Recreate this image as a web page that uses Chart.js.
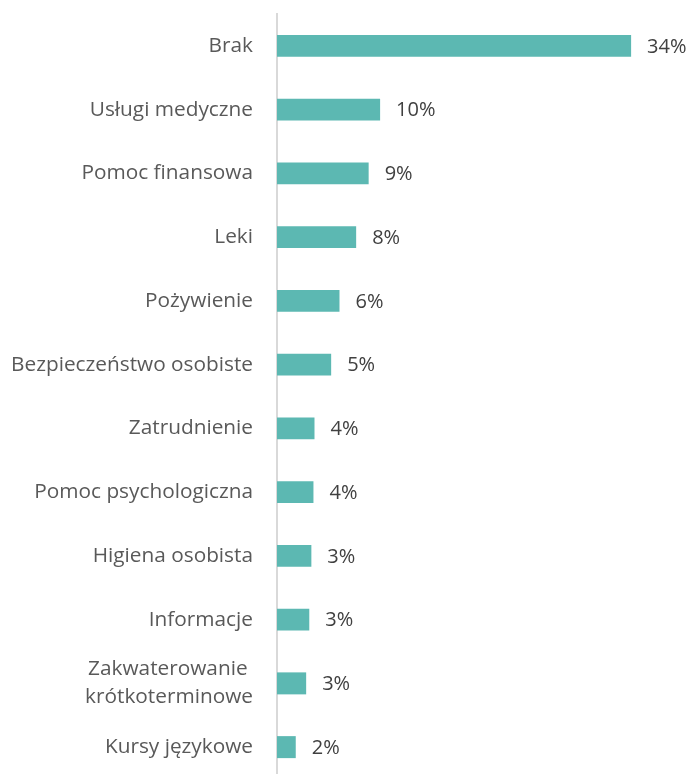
<!DOCTYPE html>
<html>
<head>
<meta charset="utf-8">
<script src="https://cdn.jsdelivr.net/npm/chart.js@4.4.1/dist/chart.umd.min.js"></script>
<style>
html,body{margin:0;padding:0;background:#fff;overflow:hidden;}
#wrap{width:691px;height:779px;position:relative;}
</style>
</head>
<body>
<div id="wrap"><canvas id="c" width="691" height="779"></canvas></div>
<script>
const categories = [
  "Brak",
  "Usługi medyczne",
  "Pomoc finansowa",
  "Leki",
  "Pożywienie",
  "Bezpieczeństwo osobiste",
  "Zatrudnienie",
  "Pomoc psychologiczna",
  "Higiena osobista",
  "Informacje",
  ["Zakwaterowanie ", "krótkoterminowe"],
  "Kursy językowe"
];
const values = [34, 9.9, 8.8, 7.6, 6.0, 5.2, 3.6, 3.5, 3.3, 3.1, 2.8, 1.8];
const valueLabels = ["34%", "10%", "9%", "8%", "6%", "5%", "4%", "4%", "3%", "3%", "3%", "2%"];

const FONT = "'Open Sans'";

const valueLabelPlugin = {
  id: 'valueLabels',
  afterDatasetsDraw(chart) {
    const ctx = chart.ctx;
    const meta = chart.getDatasetMeta(0);
    ctx.save();
    ctx.font = "20px " + FONT;
    ctx.fillStyle = "#404040";
    ctx.textBaseline = "middle";
    ctx.textAlign = "left";
    meta.data.forEach((bar, i) => {
      ctx.fillText(valueLabels[i], bar.x + 16, bar.y + 1);
    });
    ctx.restore();
  }
};

new Chart(document.getElementById('c'), {
  type: 'bar',
  data: {
    labels: categories,
    datasets: [{
      data: values,
      backgroundColor: '#5cb8b2',
      borderWidth: 0,
      barPercentage: 0.69,
      categoryPercentage: 0.5
    }]
  },
  options: {
    indexAxis: 'y',
    responsive: false,
    animation: false,
    events: [],
    layout: { padding: { top: 14, bottom: 0, left: 0, right: 0 } },
    plugins: { legend: { display: false }, tooltip: { enabled: false } },
    scales: {
      x: {
        display: false,
        min: 0,
        max: 39.75
      },
      y: {
        afterFit(scale) { scale.width = 277; scale.paddingTop = 0; scale.paddingBottom = 0; },
        grid: { display: false, drawTicks: false },
        border: { display: true, color: '#d9d9d9', width: 2 },
        ticks: {
          padding: 24,
          color: '#595959',
          font: { family: FONT, size: 20.8, lineHeight: 1.35 }
        }
      }
    }
  },
  plugins: [valueLabelPlugin]
});
</script>
</body>
</html>
